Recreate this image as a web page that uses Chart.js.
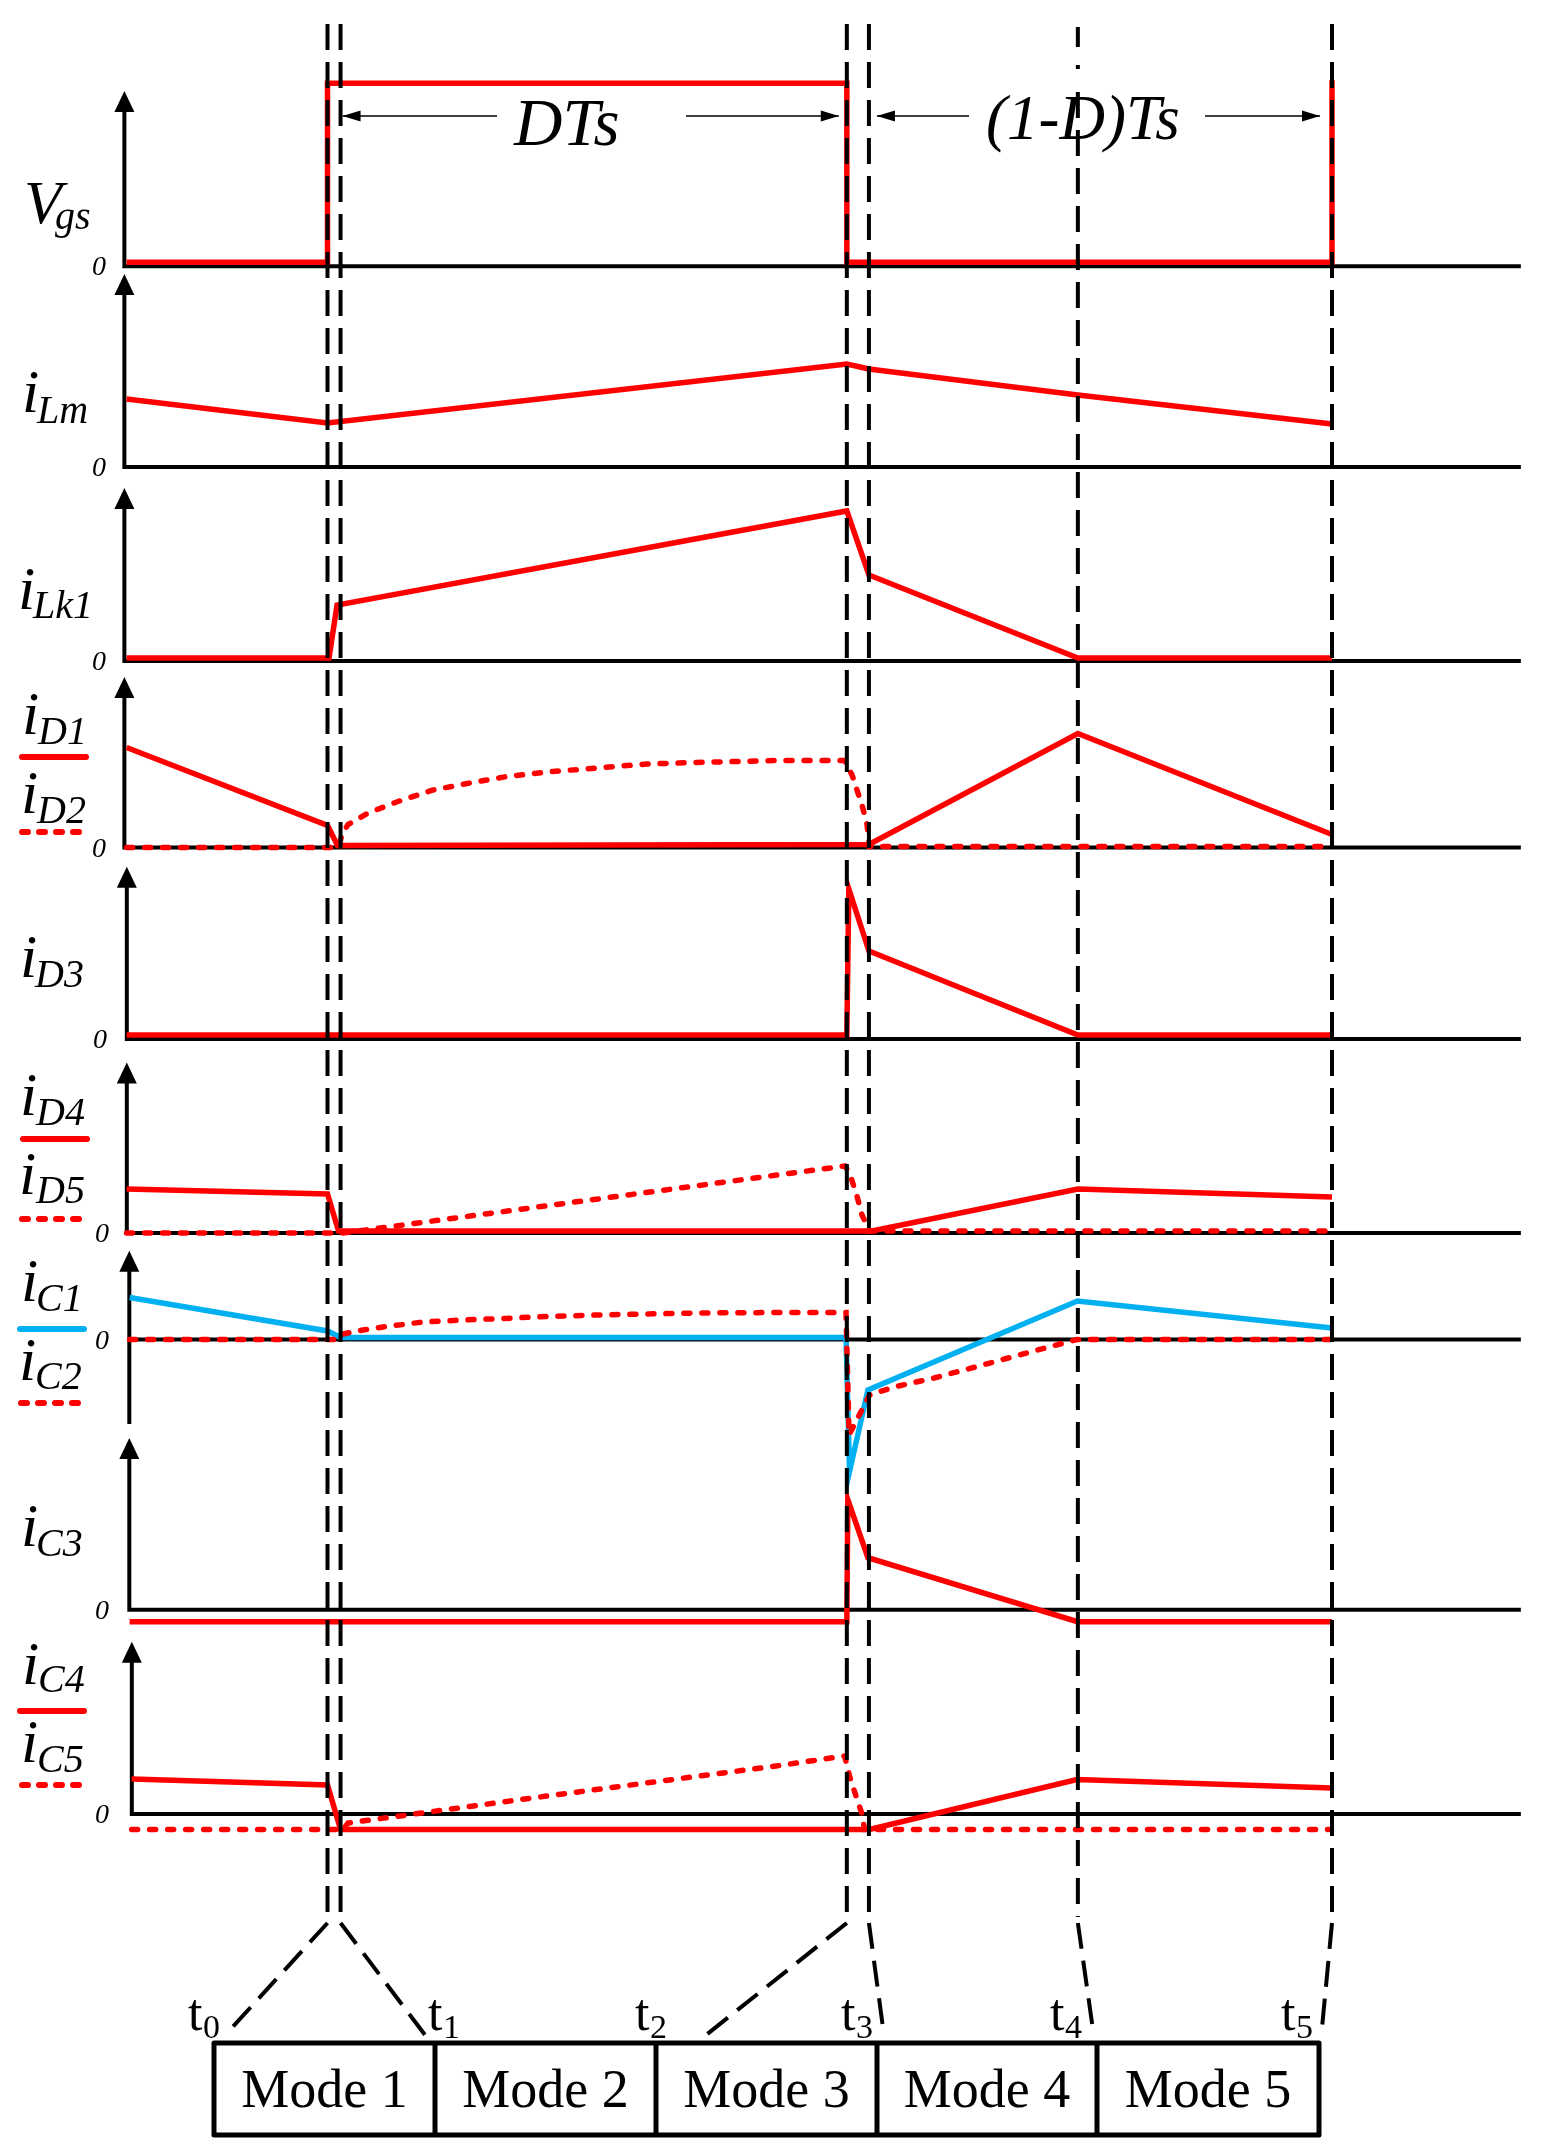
<!DOCTYPE html>
<html>
<head>
  <title>Key waveforms</title>
  <script src="https://cdn.jsdelivr.net/npm/chart.js"></script>
  <style>
    body { margin: 0; background: #fff; }
    canvas { display: block; }
  </style>
</head>
<body>
  <canvas id="wave" width="1550" height="2152"></canvas>

  <script>
    // switching instants in units of Ts: t0, t1, t3, t3', t4, t5
    var instants = [0, 0.013, 0.517, 0.539, 0.747, 1];
    var modeNames = ['Mode 1', 'Mode 2', 'Mode 3', 'Mode 4', 'Mode 5'];
    var instantNames = ['0', '1', '2', '3', '4', '5'];

    // waveforms: time (Ts) and amplitude (arbitrary units)
    var vgsT = [-0.2, 0, 0, 0.517, 0.517, 1, 1];
    var vgsV = [0.04, 0.04, 1.83, 1.83, 0.04, 0.04, 1.86];

    var ilmT = [-0.2, 0, 0.517, 0.539, 0.747, 1];
    var ilmV = [0.68, 0.44, 1.03, 0.98, 0.72, 0.43];

    var ilkT = [-0.2, 0.0015, 0.0095, 0.517, 0.539, 0.747, 1];
    var ilkV = [0.03, 0.03, 0.56, 1.50, 0.86, 0.03, 0.03];

    var id1T = [-0.2, 0, 0.01, 0.539, 0.747, 1];
    var id1V = [1.00, 0.22, 0.02, 0.03, 1.14, 0.13];
    var id2T = [-0.2, 0.011, 0.0144, 0.0204, 0.0403, 0.0702, 0.105, 0.1444, 0.1787, 0.2185, 0.2683, 0.3181, 0.3669, 0.4465, 0.5148, 0.5222, 0.5271, 0.5321, 0.5371, 0.5396, 1];
    var id2V = [0, 0, 0.13, 0.23, 0.345, 0.46, 0.575, 0.65, 0.71, 0.755, 0.795, 0.835, 0.85, 0.87, 0.87, 0.725, 0.575, 0.425, 0.23, 0.01, 0.01];

    var id3T = [-0.2, 0.517, 0.519, 0.539, 0.747, 1];
    var id3V = [0.04, 0.04, 1.50, 0.88, 0.04, 0.04];

    var id4T = [-0.2, 0, 0.011, 0.542, 0.747, 1];
    var id4V = [0.44, 0.39, 0.02, 0.02, 0.44, 0.36];
    var id5T = [-0.2, 0.0154, 0.515, 0.5197, 0.5271, 0.5321, 0.5396, 0.995];
    var id5V = [0, 0, 0.67, 0.60, 0.37, 0.18, 0.02, 0.02];

    var ic1T = [-0.197, 0, 0.013, 0.5162, 0.5197, 0.538, 0.7466, 1];
    var ic1V = [0.42, 0.085, 0.02, 0.02, -1.32, -0.505, 0.385, 0.115];
    var ic2T = [-0.197, 0, 0.011, 0.0154, 0.0353, 0.0553, 0.0951, 0.1349, 0.1737, 0.2185, 0.2683, 0.3181, 0.3669, 0.4465, 0.5162, 0.5192, 0.5396, 0.564, 0.6038, 0.6486, 0.6884, 0.7183, 0.7461, 1];
    var ic2V = [0, 0, 0, 0.055, 0.095, 0.125, 0.175, 0.195, 0.21, 0.23, 0.245, 0.255, 0.265, 0.27, 0.27, -0.955, -0.555, -0.475, -0.385, -0.265, -0.155, -0.075, 0, 0];

    var ic3T = [-0.197, 0.517, 0.518, 0.538, 0.7466, 1];
    var ic3V = [-0.12, -0.12, 1.10, 0.52, -0.12, -0.12];

    var ic4T = [-0.195, 0, 0.013, 0.5396, 0.746, 1];
    var ic4V = [0.35, 0.29, -0.155, -0.155, 0.345, 0.26];
    var ic5T = [-0.195, 0.0154, 0.0204, 0.2185, 0.4465, 0.5148, 0.5197, 0.5271, 0.5321, 0.5346, 0.9965];
    var ic5V = [-0.155, -0.155, -0.09, 0.18, 0.48, 0.58, 0.38, 0.15, 0, -0.155, -0.155];

    var red = '#ff0000';
    var blue = '#00b0f0';
    var serif = '"Liberation Serif", "Times New Roman", serif';

    // page layout (pixels): t0 position, length of Ts, 100 px per amplitude unit
    var W = 1550, H = 2152, originPx = 327.5, tsPx = 1004.5, unitPx = 100;
    var axisEnd = 1.188;

    // one panel per y axis: baseline, arrow tip, foot of the vertical axis
    var panels = [
      { base: 266.3, tip: 91,     foot: 266.3,  axisT: -0.2022, zeroX: 106, labels: [{ m: 'V', s: 'gs', x: 24, sx: 55, y: 223, sy: 229 }] },
      { base: 467,   tip: 274,    foot: 467,    axisT: -0.2022, zeroX: 106, labels: [{ m: 'i', s: 'Lm', x: 22, sx: 37, y: 412, sy: 423 }] },
      { base: 661,   tip: 488,    foot: 661,    axisT: -0.2022, zeroX: 106, labels: [{ m: 'i', s: 'Lk1', x: 18, sx: 33, y: 609, sy: 618 }] },
      { base: 847.5, tip: 677,    foot: 847.5,  axisT: -0.2022, zeroX: 106, labels: [
          { m: 'i', s: 'D1', x: 22, sx: 38, y: 734, sy: 744, key: red, ky: 757, kx: 19 },
          { m: 'i', s: 'D2', x: 21, sx: 37, y: 813, sy: 823, key: red, ky: 832, kx: 19, dotted: true }] },
      { base: 1039,  tip: 866.7,  foot: 1039,   axisT: -0.1998, zeroX: 107, labels: [{ m: 'i', s: 'D3', x: 20, sx: 35, y: 977, sy: 987 }] },
      { base: 1233,  tip: 1062.6, foot: 1233,   axisT: -0.1998, zeroX: 109, labels: [
          { m: 'i', s: 'D4', x: 20, sx: 36, y: 1115, sy: 1125, key: red, ky: 1139, kx: 20 },
          { m: 'i', s: 'D5', x: 19, sx: 36, y: 1194, sy: 1203, key: red, ky: 1219, kx: 19, dotted: true }] },
      { base: 1339.5, tip: 1250.7, foot: 1424,  axisT: -0.1973, zeroX: 109, labels: [
          { m: 'i', s: 'C1', x: 21, sx: 36, y: 1301, sy: 1311, key: blue, ky: 1329, kx: 17 },
          { m: 'i', s: 'C2', x: 19, sx: 35, y: 1380, sy: 1389, key: red, ky: 1403, kx: 18, dotted: true }] },
      { base: 1609.7, tip: 1438,  foot: 1609.7, axisT: -0.1973, zeroX: 109, labels: [{ m: 'i', s: 'C3', x: 21, sx: 36, y: 1546, sy: 1556 }] },
      { base: 1814,  tip: 1641.8, foot: 1814,   axisT: -0.1948, zeroX: 109, labels: [
          { m: 'i', s: 'C4', x: 22, sx: 38, y: 1684, sy: 1692, key: red, ky: 1711, kx: 17 },
          { m: 'i', s: 'C5', x: 21, sx: 37, y: 1762, sy: 1772, key: red, ky: 1785, kx: 19, dotted: true }] }
    ];

    var series = [
      { axis: 0, t: vgsT, v: vgsV, color: red },
      { axis: 1, t: ilmT, v: ilmV, color: red },
      { axis: 2, t: ilkT, v: ilkV, color: red },
      { axis: 3, t: id2T, v: id2V, color: red, dotted: true },
      { axis: 3, t: id1T, v: id1V, color: red },
      { axis: 4, t: id3T, v: id3V, color: red },
      { axis: 5, t: id5T, v: id5V, color: red, dotted: true },
      { axis: 5, t: id4T, v: id4V, color: red },
      { axis: 6, t: ic2T, v: ic2V, color: red, dotted: true },
      { axis: 6, t: ic1T, v: ic1V, color: blue },
      { axis: 7, t: ic3T, v: ic3V, color: red },
      { axis: 8, t: ic5T, v: ic5V, color: red, dotted: true },
      { axis: 8, t: ic4T, v: ic4V, color: red }
    ];

    // where the vertical time lines end below the plots
    var legEnds = [[229, 2031], [425, 2035], [701, 2039], [883, 2028], [1093, 2030], [1322, 2028]];
    var legTop = 1917;
    var box = { top: 2043, bottom: 2135, cells: [214, 435, 656, 877, 1097, 1319] };
    var instantLabelX = [188, 428, 635, 841, 1050, 1281];

    var datasets = series.map(function (s) {
      return {
        data: s.t.map(function (t, k) { return { x: t, y: s.v[k] }; }),
        yAxisID: 'y' + s.axis,
        showLine: true,
        borderColor: s.color,
        borderWidth: 5.5,
        borderDash: s.dotted ? [6, 12] : [],
        borderCapStyle: s.dotted ? 'round' : 'butt',
        borderJoinStyle: 'miter',
        pointRadius: 0,
        tension: 0,
        fill: false
      };
    });

    var scales = {
      x: { type: 'linear', display: false, min: -originPx / tsPx, max: (W - originPx) / tsPx }
    };
    panels.forEach(function (p, i) {
      scales['y' + i] = { type: 'linear', display: false, min: (p.base - H) / unitPx, max: p.base / unitPx };
    });

    function arrowHead(ctx, x, y, dir) {
      ctx.beginPath();
      ctx.moveTo(x, y);
      ctx.lineTo(x - dir * 18, y - 5.5);
      ctx.lineTo(x - dir * 18, y + 5.5);
      ctx.closePath();
      ctx.fill();
    }

    var overlay = {
      id: 'overlay',
      beforeDatasetsDraw: function (chart) {
        var ctx = chart.ctx, xs = chart.scales.x;
        ctx.save();
        ctx.strokeStyle = '#000';
        ctx.fillStyle = '#000';
        ctx.lineWidth = 4;
        panels.forEach(function (p, i) {
          var ax = xs.getPixelForValue(p.axisT);
          var y0 = chart.scales['y' + i].getPixelForValue(0);
          ctx.beginPath();
          ctx.moveTo(ax, p.tip + 15);
          ctx.lineTo(ax, p.foot);
          ctx.moveTo(ax - 2, y0);
          ctx.lineTo(xs.getPixelForValue(axisEnd), y0);
          ctx.stroke();
          ctx.beginPath();
          ctx.moveTo(ax, p.tip);
          ctx.lineTo(ax - 10, p.tip + 21);
          ctx.lineTo(ax + 10, p.tip + 21);
          ctx.closePath();
          ctx.fill();
        });
        ctx.restore();
      },
      afterDatasetsDraw: function (chart) {
        var ctx = chart.ctx, xs = chart.scales.x;
        ctx.save();
        ctx.strokeStyle = '#000';
        ctx.lineWidth = 4;
        ctx.setLineDash([26, 12]);
        instants.forEach(function (t, k) {
          var px = xs.getPixelForValue(t);
          var top = 24;
          if (k === 4) {
            // t4 line opens with a dash and a dot above the label
            ctx.setLineDash([]);
            ctx.beginPath();
            ctx.moveTo(px, 27); ctx.lineTo(px, 47);
            ctx.moveTo(px, 65); ctx.lineTo(px, 69);
            ctx.stroke();
            ctx.setLineDash([26, 12]);
            top = 92;
          }
          ctx.beginPath();
          ctx.moveTo(px, top);
          ctx.lineTo(px, legTop);
          ctx.stroke();
          ctx.beginPath();
          ctx.moveTo(px, legTop + 6);
          ctx.lineTo(legEnds[k][0], legEnds[k][1]);
          ctx.stroke();
        });
        ctx.restore();
      },
      afterDraw: function (chart) {
        var ctx = chart.ctx, xs = chart.scales.x;
        var px = function (t) { return xs.getPixelForValue(t); };
        ctx.save();

        // DTs and (1-D)Ts spans
        ctx.strokeStyle = '#000';
        ctx.fillStyle = '#000';
        ctx.lineWidth = 1.5;
        var ya = 116;
        ctx.beginPath();
        ctx.moveTo(px(instants[1]) + 2, ya); ctx.lineTo(497, ya);
        ctx.moveTo(686, ya); ctx.lineTo(px(instants[2]) - 8, ya);
        ctx.moveTo(px(instants[3]) + 8, ya); ctx.lineTo(969, ya);
        ctx.moveTo(1205, ya); ctx.lineTo(px(instants[5]) - 12, ya);
        ctx.stroke();
        arrowHead(ctx, px(instants[1]) + 2, ya, -1);
        arrowHead(ctx, px(instants[2]) - 8, ya, 1);
        arrowHead(ctx, px(instants[3]) + 8, ya, -1);
        arrowHead(ctx, px(instants[5]) - 12, ya, 1);
        ctx.textBaseline = 'alphabetic';
        ctx.textAlign = 'left';
        ctx.font = 'italic 67px ' + serif;
        ctx.fillText('DTs', 514, 145);
        ctx.font = 'italic 63px ' + serif;
        ctx.fillText('(1-D)Ts', 986, 139);

        // panel names, zero marks and keys
        panels.forEach(function (p, i) {
          ctx.fillStyle = '#000';
          ctx.font = 'italic 28px ' + serif;
          ctx.textAlign = 'right';
          ctx.fillText('0', p.zeroX, chart.scales['y' + i].getPixelForValue(0) + 9);
          ctx.textAlign = 'left';
          p.labels.forEach(function (l) {
            ctx.fillStyle = '#000';
            ctx.font = 'italic 62px ' + serif;
            ctx.fillText(l.m, l.x, l.y);
            ctx.font = 'italic 40px ' + serif;
            ctx.fillText(l.s, l.sx, l.sy);
            if (l.key) {
              ctx.strokeStyle = l.key;
              ctx.lineWidth = 6;
              ctx.lineCap = 'round';
              ctx.setLineDash(l.dotted ? [6, 11] : []);
              ctx.beginPath();
              ctx.moveTo(l.kx + 3, l.ky);
              ctx.lineTo(l.kx + 67, l.ky);
              ctx.stroke();
              ctx.setLineDash([]);
            }
          });
        });

        // mode boxes
        ctx.strokeStyle = '#000';
        ctx.lineWidth = 5;
        ctx.lineCap = 'butt';
        ctx.lineJoin = 'round';
        var c = box.cells;
        ctx.strokeRect(c[0], box.top, c[c.length - 1] - c[0], box.bottom - box.top);
        ctx.beginPath();
        for (var k = 1; k < c.length - 1; k++) {
          ctx.moveTo(c[k], box.top);
          ctx.lineTo(c[k], box.bottom);
        }
        ctx.stroke();
        ctx.fillStyle = '#000';
        ctx.font = '54px ' + serif;
        ctx.textAlign = 'center';
        modeNames.forEach(function (name, k) {
          ctx.fillText(name, (c[k] + c[k + 1]) / 2, 2107);
        });

        // instant labels
        ctx.textAlign = 'left';
        instantNames.forEach(function (n, k) {
          ctx.font = '52px ' + serif;
          ctx.fillText('t', instantLabelX[k], 2030);
          ctx.font = '34px ' + serif;
          ctx.fillText(n, instantLabelX[k] + 15, 2038);
        });
        ctx.restore();
      }
    };

    new Chart(document.getElementById('wave').getContext('2d'), {
      type: 'scatter',
      data: { datasets: datasets },
      options: {
        responsive: false,
        animation: false,
        devicePixelRatio: 1,
        events: [],
        layout: { padding: 0 },
        scales: scales,
        plugins: { legend: { display: false }, tooltip: { enabled: false } }
      },
      plugins: [overlay]
    });
  </script>
</body>
</html>
